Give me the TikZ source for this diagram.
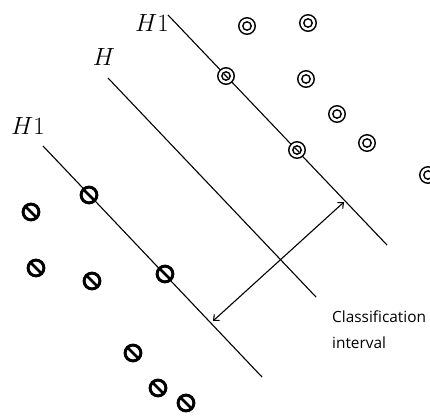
\documentclass[tikz,border=0pt]{standalone}
\usepackage{fontspec}
\usetikzlibrary{arrows.meta}
\newfontfamily\labelfont{Open Sans}
\begin{document}
\begin{tikzpicture}[x=1pt,y=-1pt,
  hline/.style={line width=1.1pt},
  hlabel/.style={font=\fontsize{23.5}{26}\selectfont, inner sep=0pt},
  txt/.style={font=\labelfont\fontsize{15.4}{18}\selectfont, anchor=west, inner sep=0pt},
  posmark/.style={circle, draw, line width=1.4pt, minimum size=16.5pt, inner sep=0pt, fill=white,
    path picture={\draw[line width=1.4pt] (path picture bounding box.center) circle (4.2pt);}},
  posonline/.style={posmark,
    path picture={\draw[line width=1.4pt] (path picture bounding box.center) circle (4.2pt);
      \draw[line width=1.2pt] (path picture bounding box.center) ++(-2.3pt,2.4pt) -- ++(4.6pt,-4.8pt);}},
  negmark/.style={circle, draw, line width=3pt, minimum size=15.8pt, inner sep=0pt, fill=white,
    path picture={\draw[line width=2.6pt] (path picture bounding box.north west) -- (path picture bounding box.south east);}}
]
\useasboundingbox (0,0) rectangle (430,415);
\clip (0,0) rectangle (430,415);
% lines
\coordinate (a1) at (168,15);  \coordinate (a2) at (387,245);
\coordinate (b1) at (108,78);  \coordinate (b2) at (316,297);
\coordinate (c1) at (43,146);  \coordinate (c2) at (262,377);
\draw[hline] (a1) -- (a2);
\draw[hline] (b1) -- (b2);
\draw[hline] (c1) -- (c2);
% labels
\node[hlabel] (lh1top) at (152,23) {$H1$};
\node[hlabel] (lh) at (104,57) {$H$};
\node[hlabel] (lh1bot) at (28,126) {$H1$};
% interval arrow
\coordinate (d1) at (213,321);
\coordinate (d2) at (344,202);
\draw[line width=1.1pt, {Straight Barb[length=4.5pt,width=8pt]}-{Straight Barb[length=4.5pt,width=8pt]}] (d1) -- (d2);
\node[txt] (t1) at (332,317) {Classification};
\node[txt] (t2) at (332,343) {interval};
% positive markers
\node[posmark] (p1) at (247,26) {};
\node[posmark] (p2) at (308,23) {};
\node[posonline] (p3) at (226,76) {};
\node[posmark] (p4) at (306,79) {};
\node[posmark] (p5) at (337,114) {};
\node[posmark] (p6) at (367,143) {};
\node[posonline] (p7) at (297,150) {};
\node[posmark] (p8) at (428,175) {};
% negative markers
\node[negmark] (n1) at (31,212) {};
\node[negmark] (n2) at (89,195) {};
\node[negmark] (n3) at (36,268) {};
\node[negmark] (n4) at (92,281) {};
\node[negmark] (n5) at (165,274) {};
\node[negmark] (n6) at (133,353) {};
\node[negmark] (n7) at (158,388) {};
\node[negmark] (n8) at (186,403) {};
\end{tikzpicture}
\end{document}
